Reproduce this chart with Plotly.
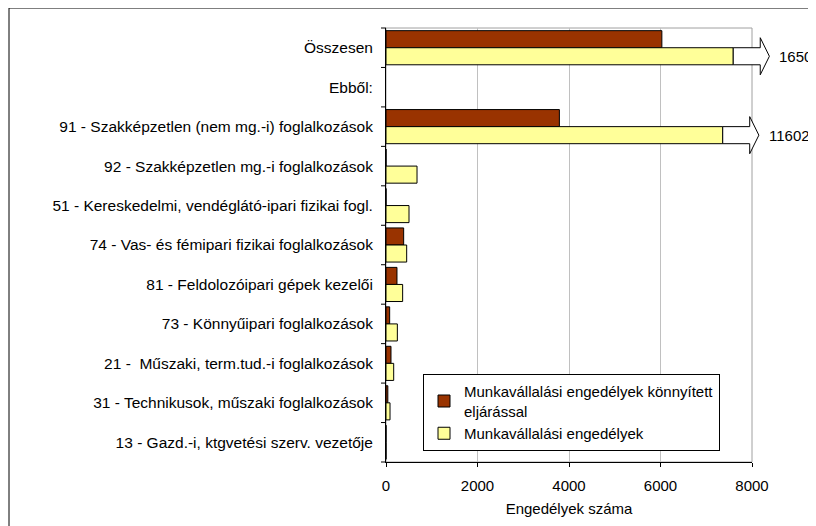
import plotly.graph_objects as go

categories = [
    "Összesen",
    "Ebből:",
    "91 - Szakképzetlen (nem mg.-i) foglalkozások",
    "92 - Szakképzetlen mg.-i foglalkozások",
    "51 - Kereskedelmi, vendéglátó-ipari fizikai fogl.",
    "74 - Vas- és fémipari fizikai foglalkozások",
    "81 - Feldolozóipari gépek kezelői",
    "73 - Könnyűipari foglalkozások",
    "21 -  Műszaki, term.tud.-i foglalkozások",
    "31 - Technikusok, műszaki foglalkozások",
    "13 - Gazd.-i, ktgvetési szerv. vezetője",
]
konnyitett = [6030, None, 3790, 0, 0, 386, 240, 80, 109, 40, 0]
engedelyek = [16503, None, 11602, 678, 503, 452, 364, 248, 168, 88, 0]
# where a bar runs past the axis, it is drawn broken at this value with an arrow
broken_at = {"Összesen": 7590, "91 - Szakképzetlen (nem mg.-i) foglalkozások": 7360}
x_ticks = [0, 2000, 4000, 6000, 8000]
name_dark = "Munkavállalási engedélyek könnyített<br>eljárással"
name_light = "Munkavállalási engedélyek"
x_title = "Engedélyek száma"

FONT = "Liberation Sans, Arial, sans-serif"
n = len(categories)
xmax = x_ticks[-1]
idx = list(range(n))
shown_light = [broken_at.get(c, v) if v is not None else None for c, v in zip(categories, engedelyek)]

fig = go.Figure()
fig.add_trace(go.Bar(y=idx, x=konnyitett, orientation="h", name=name_dark,
                     marker=dict(color="#993300", line=dict(color="#000000", width=1))))
fig.add_trace(go.Bar(y=idx, x=shown_light, orientation="h", name=name_light,
                     marker=dict(color="#FFFF99", line=dict(color="#000000", width=1))))

gap = 0.135
w = (1 - gap) / 2

# page body offset is 8px; plot area should sit at x 386..752, y 28..462 on screen
PL, PT, PW, PH = 386 - 8, 28 - 8, 366, 434


def px(v):
    return v / xmax


def py(y):
    return (n - 0.5 - y) / n


def paper_x(screen_x):
    return (screen_x - 8 - PL) / PW


def paper_y(screen_y):
    return 1 - (screen_y - 8 - PT) / PH


shapes = []
# plot frame (gray)
shapes.append(dict(type="rect", xref="paper", yref="paper", x0=0, x1=1, y0=0, y1=1,
                   line=dict(color="#a0a0a0", width=1), layer="below"))
# outer chart border
shapes.append(dict(type="rect", xref="paper", yref="paper",
                   x0=paper_x(9), x1=paper_x(840), y0=paper_y(545), y1=paper_y(8),
                   line=dict(color="#000000", width=1)))
# y tick marks at category boundaries
for k in range(n + 1):
    yy = py(k - 0.5)
    shapes.append(dict(type="line", xref="paper", yref="paper", x0=-5 / PW, x1=0, y0=yy, y1=yy,
                       line=dict(color="#000000", width=1)))

annotations = []
for i, c in enumerate(categories):
    if c in broken_at:
        s = broken_at[c]
        hs = s + 590
        tip = hs + 200
        top = i
        bot = i + w
        cen = i + w / 2
        htop = cen - 0.47
        hbot = cen + 0.47
        path = (f"M {px(s)},{py(top)} L {px(hs)},{py(top)} L {px(hs)},{py(htop)} "
                f"L {px(tip)},{py(cen)} L {px(hs)},{py(hbot)} L {px(hs)},{py(bot)} "
                f"L {px(s)},{py(bot)} Z")
        shapes.append(dict(type="path", xref="paper", yref="paper", path=path,
                           fillcolor="#ffffff", line=dict(color="#000000", width=1)))
        annotations.append(dict(xref="paper", yref="paper", x=px(tip) + 0.022, y=py(cen),
                                text=str(engedelyek[i]), showarrow=False, xanchor="left",
                                yanchor="middle", font=dict(size=15, color="#000000", family=FONT)))

fig.update_layout(
    width=816, height=526,
    margin=dict(l=PL, r=816 - PL - PW, t=PT, b=526 - PT - PH),
    paper_bgcolor="#ffffff", plot_bgcolor="#ffffff",
    barmode="group", bargap=gap,
    font=dict(family=FONT, size=15, color="#000000"),
    showlegend=True,
    legend=dict(x=paper_x(423), y=paper_y(374), xanchor="left", yanchor="top",
                bgcolor="#ffffff", bordercolor="#000000", borderwidth=1,
                font=dict(size=15, family=FONT), traceorder="normal",
                itemwidth=30, tracegroupgap=0),
    xaxis=dict(range=[0, xmax], tickvals=x_ticks, ticks="outside", ticklen=4,
               tickcolor="#000000", showline=True, linecolor="#000000", linewidth=1,
               showgrid=True, gridcolor="#c0c0c0", gridwidth=1, zeroline=False,
               ticklabelstandoff=6,
               title=dict(text=x_title, font=dict(size=15), standoff=10),
               tickfont=dict(size=15)),
    yaxis=dict(range=[n - 0.5, -0.5], tickvals=idx, ticktext=categories, ticks="",
               showline=True, linecolor="#000000", linewidth=1, showgrid=False,
               zeroline=False, ticklabelstandoff=9, tickfont=dict(size=15.5)),
    shapes=shapes,
    annotations=annotations,
)

fig.write_html("out.html")
